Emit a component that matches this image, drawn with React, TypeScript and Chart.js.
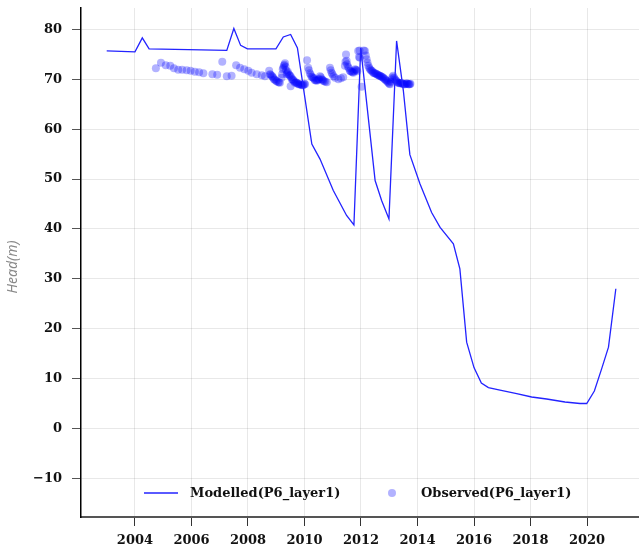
import React, { useEffect, useRef } from "react";
import { Chart, registerables } from "chart.js";

Chart.register(...registerables);

const modelledYears = [
  2003.0, 2004.0, 2004.26, 2004.5, 2007.25, 2007.5, 2007.74, 2007.98, 2008.99, 2009.25,
  2009.51, 2009.75, 2010.26, 2010.55, 2011.02, 2011.49, 2011.75, 2011.99, 2012.5, 2012.73,
  2012.99, 2013.26, 2013.5, 2013.73, 2014.09, 2014.5, 2014.8, 2015.27, 2015.5, 2015.74,
  2016.0, 2016.26, 2016.51, 2016.92, 2017.51, 2018.04, 2018.57, 2019.22, 2019.75, 2019.99,
  2020.26, 2020.52, 2020.76, 2021.02,
];
const modelledHeads = [
  75.7, 75.5, 78.3, 76.1, 75.8, 80.2, 76.8, 76.1, 76.1, 78.5,
  79.0, 76.3, 57.0, 54.0, 47.7, 42.7, 40.8, 76.3, 49.7, 45.7,
  42.0, 77.7, 67.7, 54.9, 49.0, 43.3, 40.3, 37.0, 32.0, 17.3,
  12.2, 9.1, 8.2, 7.7, 7.0, 6.3, 5.9, 5.3, 5.0, 5.0,
  7.5, 12.0, 16.3, 28.0,
];

const observedYears = [
  2004.74, 2004.92, 2005.09, 2005.25, 2005.38, 2005.53, 2005.67, 2005.83, 2005.97, 2006.12,
  2006.27, 2006.42, 2006.74, 2006.91, 2007.09, 2007.25, 2007.42, 2007.58, 2007.72, 2007.87,
  2008.01, 2008.13, 2008.31, 2008.49, 2008.6, 2008.75, 2008.78, 2008.87, 2008.92, 2008.99,
  2009.07, 2009.13, 2009.19, 2009.23, 2009.27, 2009.31, 2009.37, 2009.41, 2009.49, 2009.51,
  2009.55, 2009.6, 2009.66, 2009.72, 2009.78, 2009.84, 2009.94, 2010.02, 2010.09, 2010.13,
  2010.19, 2010.25, 2010.31, 2010.37, 2010.43, 2010.52, 2010.55, 2010.61, 2010.66, 2010.79,
  2010.9, 2010.96, 2011.08, 2011.2, 2011.29, 2011.37, 2011.43, 2011.47, 2011.49, 2011.54,
  2011.61, 2011.67, 2011.73, 2011.79, 2011.84, 2011.9, 2011.93, 2011.96, 2012.02, 2012.14,
  2012.2, 2012.26, 2012.32, 2012.38, 2012.44, 2012.5, 2012.56, 2012.62, 2012.67, 2012.73,
  2012.79, 2012.85, 2012.91, 2012.97, 2013.03, 2013.09, 2013.14, 2013.2, 2013.26, 2013.32,
  2013.38, 2013.44, 2013.5, 2013.56, 2013.62, 2013.68, 2013.73,
  // denser readings inside the dark clusters
  2008.8, 2008.84, 2008.89, 2008.95, 2009.02, 2009.1,
  2009.21, 2009.25, 2009.29, 2009.33, 2009.35, 2009.39, 2009.44, 2009.47,
  2009.53, 2009.58, 2009.63, 2009.69, 2009.75, 2009.81, 2009.88, 2009.91, 2009.97, 2010.0,
  2010.16, 2010.22, 2010.28, 2010.34, 2010.4, 2010.46, 2010.49, 2010.58, 2010.64, 2010.7, 2010.74,
  2010.93, 2010.99, 2011.03,
  2011.45, 2011.51, 2011.57, 2011.63, 2011.7, 2011.76, 2011.82, 2011.87,
  2011.95, 2012.1, 2012.17,
  2012.23, 2012.29, 2012.35, 2012.41, 2012.47, 2012.53, 2012.59, 2012.65, 2012.7, 2012.76,
  2012.82, 2012.88, 2012.94, 2013.0,
  2013.06, 2013.11, 2013.17, 2013.23, 2013.29, 2013.35, 2013.41, 2013.47, 2013.53, 2013.59,
  2013.65, 2013.7, 2013.75,
];
const observedHeads = [
  72.2, 73.3, 72.8, 72.7, 72.2, 71.9, 71.9, 71.8, 71.7, 71.5,
  71.4, 71.2, 71.0, 70.9, 73.5, 70.6, 70.7, 72.8, 72.3, 72.0,
  71.7, 71.3, 71.0, 70.8, 70.6, 71.7, 71.0, 70.5, 70.0, 69.7,
  69.4, 69.3, 70.3, 72.0, 72.7, 73.2, 71.0, 71.5, 70.7, 68.6,
  70.0, 69.8, 69.3, 69.3, 69.0, 69.0, 68.8, 69.0, 73.8, 72.3,
  71.2, 70.5, 70.3, 69.8, 69.7, 70.0, 70.6, 70.0, 69.7, 69.4,
  72.3, 71.3, 70.3, 70.0, 70.2, 70.4, 72.7, 75.0, 73.7, 72.5,
  71.7, 71.5, 71.3, 72.0, 71.8, 75.7, 74.5, 74.3, 68.5, 75.7,
  74.0, 72.7, 72.0, 71.7, 71.3, 71.2, 71.0, 70.8, 70.7, 70.5,
  70.3, 70.0, 69.7, 69.3, 69.0, 70.0, 70.7, 70.0, 69.6, 69.3,
  69.2, 69.3, 69.0, 69.0, 69.2, 69.0, 69.0,
  70.9, 70.7, 70.3, 69.9, 69.6, 69.4,
  71.0, 72.3, 72.9, 72.5, 71.8, 71.3, 71.0, 70.8,
  70.4, 70.0, 69.6, 69.4, 69.2, 69.0, 68.9, 68.8, 68.9, 69.1,
  71.8, 70.9, 70.4, 70.1, 69.8, 69.8, 70.0, 70.4, 69.9, 69.6, 69.5,
  71.8, 71.0, 70.6,
  73.5, 73.0, 72.2, 71.6, 71.4, 71.6, 71.9, 71.6,
  75.8, 75.8, 74.8,
  73.3, 72.3, 71.8, 71.5, 71.2, 71.1, 70.9, 70.7, 70.6, 70.4,
  70.1, 69.8, 69.5, 69.1,
  69.5, 70.4, 70.3, 69.8, 69.4, 69.2, 69.2, 69.1, 69.0, 69.1,
  69.1, 69.0, 69.1,
];

const xTickValues = [2004, 2006, 2008, 2010, 2012, 2014, 2016, 2018, 2020];
const yTickValues = [-10, 0, 10, 20, 30, 40, 50, 60, 70, 80];

const seriesLabels = ["Modelled(P6_layer1)", "Observed(P6_layer1)"];
const yAxisTitle = "Head(m)";

const LINE_COLOR = "rgb(35,35,255)";
const DOT_COLOR = "rgba(0,0,255,0.3)";
const TICK_FONT = { family: "'DejaVu Serif', serif", size: 13, weight: "bold" as const };

const zeroPadding = (s: any) => {
  s.paddingTop = 0;
  s.paddingBottom = 0;
  s.paddingLeft = 0;
  s.paddingRight = 0;
};

const overlayPlugin = {
  id: "overlay",
  afterDraw(chart: any) {
    const ctx = chart.ctx as CanvasRenderingContext2D;
    ctx.save();
    ctx.translate(13, 267);
    ctx.rotate(-Math.PI / 2);
    ctx.font = "italic 14px 'Noto Sans', sans-serif";
    ctx.fillStyle = "#8a8a8a";
    ctx.textAlign = "center";
    ctx.textBaseline = "middle";
    ctx.fillText(yAxisTitle, 0, 0);
    ctx.restore();

    ctx.save();
    const ly = 493;
    ctx.strokeStyle = LINE_COLOR;
    ctx.lineWidth = 1.3;
    ctx.beginPath();
    ctx.moveTo(144, ly);
    ctx.lineTo(178, ly);
    ctx.stroke();
    ctx.font = "bold 13px 'DejaVu Serif', serif";
    ctx.fillStyle = "#111";
    ctx.textAlign = "left";
    ctx.textBaseline = "middle";
    ctx.fillText(seriesLabels[0], 190, ly + 1);
    ctx.fillStyle = DOT_COLOR;
    ctx.beginPath();
    ctx.arc(392, ly, 4, 0, Math.PI * 2);
    ctx.fill();
    ctx.fillStyle = "#111";
    ctx.fillText(seriesLabels[1], 421, ly + 1);
    ctx.restore();
  },
};

export default function App() {
  const ref = useRef<HTMLCanvasElement | null>(null);
  useEffect(() => {
    if (!ref.current) return;
    const chart = new Chart(ref.current, {
      type: "scatter",
      data: {
        datasets: [
          {
            label: seriesLabels[0],
            data: modelledYears.map((x, i) => ({ x, y: modelledHeads[i] })),
            showLine: true,
            borderColor: LINE_COLOR,
            borderWidth: 1.3,
            pointRadius: 0,
            tension: 0,
            fill: false,
          },
          {
            label: seriesLabels[1],
            data: observedYears.map((x, i) => ({ x, y: observedHeads[i] })),
            showLine: false,
            backgroundColor: DOT_COLOR,
            borderWidth: 0,
            pointRadius: 4,
          },
        ],
      },
      options: {
        responsive: false,
        animation: false,
        layout: { autoPadding: false, padding: { top: 8, right: 0, bottom: 0, left: 0 } },
        plugins: {
          legend: { display: false },
          tooltip: { enabled: false },
        },
        scales: {
          x: {
            type: "linear",
            min: 2002.09,
            max: 2021.84,
            afterBuildTicks: (s: any) => {
              s.ticks = xTickValues.map((v) => ({ value: v }));
            },
            afterFit: (s: any) => {
              s.height = 36;
              zeroPadding(s);
            },
            ticks: {
              font: TICK_FONT,
              color: "#111",
              padding: 7,
              maxRotation: 0,
              callback: (v: any) => String(v),
            },
            grid: {
              color: "rgba(0,0,0,0.09)",
              tickColor: "#333",
              tickLength: 9,
              lineWidth: 1,
            },
            border: { color: "#555", width: 2 },
          },
          y: {
            type: "linear",
            min: -17.76,
            max: 84.3,
            afterBuildTicks: (s: any) => {
              s.ticks = yTickValues.map((v) => ({ value: v }));
            },
            afterFit: (s: any) => {
              s.width = 81;
              zeroPadding(s);
            },
            ticks: {
              font: TICK_FONT,
              color: "#111",
              padding: 10,
              callback: (v: any) => (v < 0 ? "\u2212" + Math.abs(v) : String(v)),
            },
            grid: {
              color: "rgba(0,0,0,0.09)",
              tickColor: "#555",
              tickLength: 9,
              lineWidth: 1,
            },
            border: { color: "#000", width: 1.5 },
          },
        },
      },
      plugins: [overlayPlugin],
    });
    return () => chart.destroy();
  }, []);
  return (
    <div style={{ position: "absolute", left: 0, top: 0, width: 639, height: 553 }}>
      <canvas ref={ref} width={639} height={553} />
    </div>
  );
}
